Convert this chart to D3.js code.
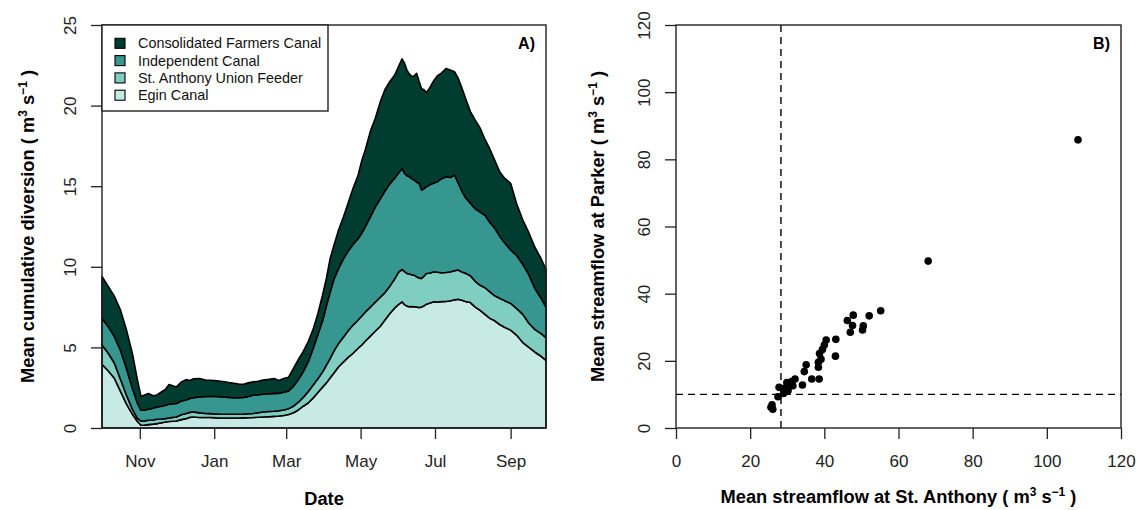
<!DOCTYPE html>
<html>
<head>
<meta charset="utf-8">
<script src="https://cdn.jsdelivr.net/npm/d3@7"></script>
<style>
  body { margin: 0; background: #fff; }
  svg { display: block; font-family: "Liberation Sans", Arial, Helvetica, sans-serif; }
</style>
</head>
<body>
<svg id="chart" width="1138" height="510"></svg>
<script>

// ---- data: panel A, mean diversion by canal (m3/s), day of water year (0 = Oct 1) ----
var waterYearDay = [0,5,10,15,20,25,29,32,35,38,42,45,49,52,55,58,61,65,69,72,75,80,85,89,94,99,104,108,112,116,120,124,128,132,137,141,145,149,153,157,161,165,169,173,177,181,184,187,190,194,198,202,206,210,213,216,220,224,228,232,236,240,243,246,248,250,252,254,256,258,260,262,264,266,269,272,275,278,282,286,289,292,295,298,302,306,310,314,318,322,326,330,335,340,345,350,355,360,364];

var consolidated = [2.60,2.50,2.50,2.50,2.40,2.15,1.45,0.85,0.93,0.98, 0.78,0.75,0.90,0.99,1.22,1.12,1.03,1.17,1.26,1.12, 1.17,1.14,1.03,0.99,0.98,0.95,0.92,0.90,0.84,0.82, 0.84,0.83,0.84,0.88,0.90,0.92,0.80,0.85,0.85,1.10, 1.25,1.25,1.25,1.20,1.30,1.60,1.70,2.10,2.10,2.40, 2.60,3.00,3.50,3.95,4.50,4.80,5.30,5.50,6.00,6.30, 6.35,6.40,6.60,6.80,6.83,6.55,6.36,6.35,6.46,6.75, 6.32,6.29,6.13,5.83,6.05,6.35,6.57,6.55,6.71,6.65, 6.40,6.50,6.40,6.16,5.68,5.50,5.20,4.70,4.55,4.20, 4.00,4.00,4.13,3.20,2.75,2.60,2.55,2.45,2.35];

var independent = [1.65,1.65,1.65,1.80,1.65,1.30,0.95,0.68,0.68,0.68, 0.72,0.76,0.79,0.83,0.86,0.84,0.84,0.86,0.84,0.86, 0.88,0.99,1.05,1.08,1.08,1.08,1.05,1.03,1.03,1.03, 1.08,1.13,1.11,1.10,1.10,1.11,1.08,1.10,1.10,1.25, 1.40,1.60,1.85,2.25,2.75,3.20,3.70,4.10,4.45,4.65, 4.85,4.95,5.00,5.05,5.15,5.30,5.60,5.90,6.10,6.30, 6.35,6.25,6.15,6.26,6.10,6.06,6.04,5.95,5.91,5.87, 5.88,5.48,5.43,5.39,5.48,5.51,5.62,5.82,5.94,5.86, 5.95,5.40,5.02,4.70,4.50,4.50,4.55,4.50,4.30,4.20, 3.85,3.60,3.32,3.30,3.10,3.00,2.55,2.20,1.90];

var stAnthony = [1.20,1.10,0.95,0.75,0.55,0.30,0.20,0.25,0.26,0.27, 0.26,0.27,0.23,0.21,0.22,0.24,0.25,0.30,0.32,0.31, 0.32,0.29,0.25,0.24,0.24,0.23,0.23,0.23,0.23,0.23, 0.24,0.25,0.28,0.31,0.32,0.32,0.33,0.34,0.36,0.40, 0.48,0.55,0.70,0.80,0.85,0.95,1.10,1.20,1.35,1.45, 1.55,1.65,1.75,1.75,1.80,1.80,1.80,1.80,1.80,1.70, 1.70,1.80,2.00,2.01,2.05,2.03,2.03,1.96,1.96,1.88, 1.83,1.78,1.84,1.90,1.86,1.86,1.84,1.79,1.80,1.80, 1.80,1.81,1.76,1.75,1.67,1.60,1.55,1.65,1.65,1.55, 1.63,1.65,1.66,1.65,1.75,1.50,1.40,1.40,1.40];

var egin = [3.95,3.55,3.10,2.30,1.50,0.85,0.40,0.17,0.18,0.21, 0.24,0.27,0.33,0.37,0.40,0.42,0.43,0.52,0.58,0.66, 0.68,0.65,0.65,0.65,0.63,0.62,0.62,0.62,0.62,0.63, 0.64,0.65,0.67,0.68,0.70,0.72,0.74,0.78,0.84,0.95, 1.12,1.35,1.55,1.85,2.20,2.55,2.80,3.10,3.40,3.80, 4.10,4.40,4.65,4.95,5.15,5.40,5.70,6.00,6.30,6.70, 7.10,7.45,7.65,7.83,7.65,7.56,7.52,7.54,7.52,7.50, 7.47,7.50,7.58,7.68,7.76,7.83,7.82,7.84,7.85,7.89, 7.95,7.99,7.92,7.85,7.78,7.50,7.30,7.05,6.80,6.65, 6.42,6.25,6.07,5.75,5.30,5.00,4.70,4.45,4.20];

var canalNames = ["Consolidated Farmers Canal", "Independent Canal", "St. Anthony Union Feeder", "Egin Canal"];
var yTicksA = [0, 5, 10, 15, 20, 25];

// ---- data: panel B, mean streamflow (m3/s) ----
var flowStAnthony = [25.9,26.1,25.6,27.5,29.0,27.8,29.3,30.2,30.5,29.9,31.2,32.1,31.5,34.1,34.6,35.1,36.6,38.6,38.4,38.4,39.1,38.7,39.5,40.0,40.5,43.1,43.0,47.0,47.6,46.2,47.8,50.3,50.5,52.1,55.2,68.0,108.4];
var flowParker    = [ 6.9, 5.6, 6.2, 9.3,10.3,12.1,11.8,11.1,12.3,13.5,13.8,14.6,12.6,12.8,16.8,18.8,14.6,14.6,18.1,19.6,20.5,22.2,23.4,24.7,26.2,26.4,21.4,28.5,30.5,32.0,33.6,29.2,30.4,33.4,34.9,49.7,85.8];
var thresholdStAnthony = 28.3;
var thresholdParker = 10;
var ticksB = [0, 20, 40, 60, 80, 100, 120];


var svg = d3.select("#chart");
svg.append("rect").attr("width", 1138).attr("height", 510).attr("fill", "#fff");

var tickSize = 17;
var legendSize = 14.4;
var titleSize = 18.3;

// superscript helper for "( m3 s-1 )"
function unitsLabel(text, prefix) {
  text.append("tspan").text(prefix + " ( m");
  text.append("tspan").attr("dy", -7).attr("font-size", 12).text("3");
  text.append("tspan").attr("dy", 7).text(" s");
  text.append("tspan").attr("dy", -7).attr("font-size", 12).text("\u22121");
  text.append("tspan").attr("dy", 7).text(" )");
}

// =================== panel A ===================
var A = {left: 102, right: 546, top: 25, bottom: 428};
var start = new Date(2013, 9, 1);

var keys = ["egin", "stAnthony", "independent", "consolidated"];
var colors = {consolidated: "#003c30", independent: "#35978f", stAnthony: "#80cdc1", egin: "#c7eae5"};

var rows = waterYearDay.map(function(d, i) {
  return {
    date: d3.timeDay.offset(start, d),
    egin: egin[i],
    stAnthony: stAnthony[i],
    independent: independent[i],
    consolidated: consolidated[i]
  };
});

var layers = d3.stack().keys(keys)(rows);

var xA = d3.scaleTime()
  .domain([start, new Date(2014, 8, 30)])
  .range([A.left, A.right]);

var yA = d3.scaleLinear()
  .domain([0, 25])
  .range([A.bottom, A.top]);

var area = d3.area()
  .x(function(d) { return xA(d.data.date); })
  .y0(function(d) { return yA(d[0]); })
  .y1(function(d) { return yA(d[1]); });

svg.append("g")
  .selectAll("path")
  .data(layers)
  .enter().append("path")
  .attr("d", area)
  .attr("fill", function(d) { return colors[d.key]; })
  .attr("stroke", "#000")
  .attr("stroke-width", 1.6)
  .attr("stroke-linejoin", "round");

// x axis (months)
var gxA = svg.append("g")
  .attr("transform", "translate(0," + A.bottom + ")")
  .call(d3.axisBottom(xA)
    .ticks(d3.timeMonth.every(2))
    .tickFormat(d3.timeFormat("%b"))
    .tickSize(11)
    .tickSizeOuter(0));
gxA.select(".domain").remove();

// y axis
var gyA = svg.append("g")
  .attr("transform", "translate(" + A.left + ",0)")
  .call(d3.axisLeft(yA).tickValues(yTicksA).tickSize(11).tickSizeOuter(0));
gyA.select(".domain").remove();

// plot box
svg.append("rect")
  .attr("x", A.left).attr("y", A.top)
  .attr("width", A.right - A.left).attr("height", A.bottom - A.top)
  .attr("fill", "none").attr("stroke", "#222").attr("stroke-width", 1.4);

// legend
var leg = svg.append("g");
leg.append("rect")
  .attr("x", A.left).attr("y", A.top)
  .attr("width", 226).attr("height", 86)
  .attr("fill", "#fff").attr("stroke", "#222").attr("stroke-width", 1.4);

var legKeys = ["consolidated", "independent", "stAnthony", "egin"];
legKeys.forEach(function(k, i) {
  var cy = 43.3 + i * 17.3;
  leg.append("rect")
    .attr("x", 115).attr("y", cy - 5)
    .attr("width", 10).attr("height", 10)
    .attr("fill", colors[k]).attr("stroke", "#000").attr("stroke-width", 1.1);
  leg.append("text")
    .attr("x", 138).attr("y", cy + 5)
    .attr("font-size", legendSize)
    .attr("fill", "#111")
    .text(canalNames[i]);
});

svg.append("text")
  .attr("x", 535).attr("y", 49)
  .attr("text-anchor", "end")
  .attr("font-size", 16)
  .attr("font-weight", "bold")
  .text("A)");

svg.append("text")
  .attr("x", (A.left + A.right) / 2).attr("y", 505)
  .attr("text-anchor", "middle")
  .attr("font-size", titleSize)
  .attr("font-weight", "bold")
  .text("Date");

svg.append("text")
  .attr("transform", "translate(34," + (A.top + A.bottom) / 2 + ") rotate(-90)")
  .attr("text-anchor", "middle")
  .attr("font-size", titleSize)
  .attr("font-weight", "bold")
  .call(unitsLabel, "Mean cumulative diversion");

// =================== panel B ===================
var B = {left: 676, right: 1121, top: 25, bottom: 428};

var xB = d3.scaleLinear().domain([0, 120]).range([B.left, B.right]);
var yB = d3.scaleLinear().domain([0, 120]).range([B.bottom, B.top]);

var gxB = svg.append("g")
  .attr("transform", "translate(0," + B.bottom + ")")
  .call(d3.axisBottom(xB).tickValues(ticksB).tickSize(11).tickSizeOuter(0));
gxB.select(".domain").remove();

var gyB = svg.append("g")
  .attr("transform", "translate(" + B.left + ",0)")
  .call(d3.axisLeft(yB).tickValues(ticksB).tickSize(11).tickSizeOuter(0));
gyB.select(".domain").remove();

// threshold lines
svg.append("line")
  .attr("x1", xB(thresholdStAnthony)).attr("x2", xB(thresholdStAnthony))
  .attr("y1", B.top).attr("y2", B.bottom)
  .attr("stroke", "#000").attr("stroke-width", 1.4).attr("stroke-dasharray", "7,5");
svg.append("line")
  .attr("x1", B.left).attr("x2", B.right)
  .attr("y1", yB(thresholdParker)).attr("y2", yB(thresholdParker))
  .attr("stroke", "#000").attr("stroke-width", 1.4).attr("stroke-dasharray", "7,5");

svg.append("g")
  .selectAll("circle")
  .data(flowStAnthony)
  .enter().append("circle")
  .attr("cx", function(d) { return xB(d); })
  .attr("cy", function(d, i) { return yB(flowParker[i]); })
  .attr("r", 3.8)
  .attr("fill", "#000");

svg.append("rect")
  .attr("x", B.left).attr("y", B.top)
  .attr("width", B.right - B.left).attr("height", B.bottom - B.top)
  .attr("fill", "none").attr("stroke", "#222").attr("stroke-width", 1.4);

svg.append("text")
  .attr("x", 1110).attr("y", 49)
  .attr("text-anchor", "end")
  .attr("font-size", 16)
  .attr("font-weight", "bold")
  .text("B)");

svg.append("text")
  .attr("x", (B.left + B.right) / 2).attr("y", 503)
  .attr("text-anchor", "middle")
  .attr("font-size", titleSize)
  .attr("font-weight", "bold")
  .call(unitsLabel, "Mean streamflow at St. Anthony");

svg.append("text")
  .attr("transform", "translate(604," + (B.top + B.bottom) / 2 + ") rotate(-90)")
  .attr("text-anchor", "middle")
  .attr("font-size", titleSize)
  .attr("font-weight", "bold")
  .call(unitsLabel, "Mean streamflow at Parker");

// ---- common axis styling (R look) ----
svg.selectAll(".tick line").attr("stroke", "#222").attr("stroke-width", 1.3);

[gxA, gxB].forEach(function(g) {
  g.selectAll(".tick text")
    .attr("y", 39).attr("dy", 0)
    .attr("font-size", tickSize)
    .attr("font-family", "Liberation Sans, Arial, sans-serif")
    .attr("fill", "#222");
});

[gyA, gyB].forEach(function(g) {
  g.selectAll(".tick text")
    .attr("transform", "rotate(-90)")
    .attr("x", 0).attr("y", -26).attr("dy", 0)
    .attr("text-anchor", "middle")
    .attr("font-size", tickSize)
    .attr("font-family", "Liberation Sans, Arial, sans-serif")
    .attr("fill", "#222");
});

</script>
</body>
</html>
